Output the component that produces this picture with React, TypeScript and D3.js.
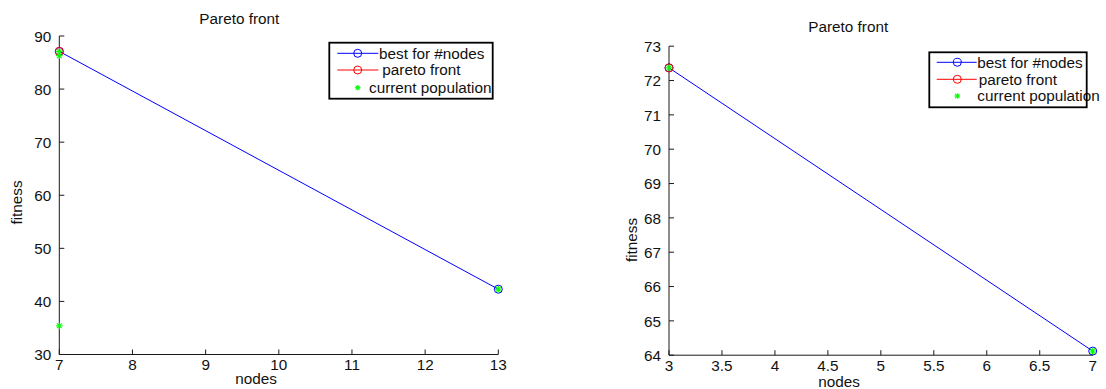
import React from "react";
import * as d3 from "d3";

// ---------- data ----------
const leftBestNodes = [7, 13];
const leftBestFitness = [87.1, 42.3];
const leftParetoNodes = [7];
const leftParetoFitness = [87.1];
const leftPopNodes = [7, 7, 7, 13];
const leftPopFitness = [87.1, 86.3, 35.4, 42.3];
const leftXTicks = [7, 8, 9, 10, 11, 12, 13];
const leftYTicks = [30, 40, 50, 60, 70, 80, 90];

const rightBestNodes = [3, 7];
const rightBestFitness = [72.37, 64.12];
const rightParetoNodes = [3];
const rightParetoFitness = [72.37];
const rightPopNodes = [3, 7];
const rightPopFitness = [72.37, 64.12];
const rightXTicks = [3, 3.5, 4, 4.5, 5, 5.5, 6, 6.5, 7];
const rightYTicks = [64, 65, 66, 67, 68, 69, 70, 71, 72, 73];

const titleText = "Pareto front";
const xLabelText = "nodes";
const yLabelText = "fitness";
const legendLabels = ["best for #nodes", "pareto front", "current population"];

const FONT = "'Liberation Sans', Arial, Helvetica, sans-serif";
const FS = 15.3;

type PanelProps = {
  xDomain: [number, number];
  yDomain: [number, number];
  xRange: [number, number];
  yRange: [number, number];
  xTicks: number[];
  yTicks: number[];
  bestX: number[];
  bestY: number[];
  paretoX: number[];
  paretoY: number[];
  popX: number[];
  popY: number[];
  title: [number, number];
  xLabel: [number, number];
  yLabel: [number, number];
  legend: { x: number; y: number; w: number; h: number; rows: number[]; line: [number, number]; marker: number; textX: number[] };
};

function Star({ x, y, r = 3.3 }: { x: number; y: number; r?: number }) {
  const d = r * 0.72;
  return (
    <g stroke="#00ff00" strokeWidth={1.1}>
      <line x1={x - r} y1={y} x2={x + r} y2={y} />
      <line x1={x} y1={y - r} x2={x} y2={y + r} />
      <line x1={x - d} y1={y - d} x2={x + d} y2={y + d} />
      <line x1={x - d} y1={y + d} x2={x + d} y2={y - d} />
    </g>
  );
}

function Panel(p: PanelProps) {
  const x = d3.scaleLinear().domain(p.xDomain).range(p.xRange);
  const y = d3.scaleLinear().domain(p.yDomain).range(p.yRange);
  const line = d3
    .line<number>()
    .x((_, i) => x(p.bestX[i]))
    .y((_, i) => y(p.bestY[i]));
  const paretoLine = d3
    .line<number>()
    .x((_, i) => x(p.paretoX[i]))
    .y((_, i) => y(p.paretoY[i]));
  const axisColor = "#1a1a1a";
  const tickLen = 5;
  const fmt = (v: number) => String(v);
  const lg = p.legend;
  const colors = ["#0000ff", "#ff0000"];
  return (
    <g fontFamily={FONT}>
      {/* axes */}
      <line x1={p.xRange[0]} y1={p.yRange[0]} x2={p.xRange[1]} y2={p.yRange[0]} stroke={axisColor} strokeWidth={1} />
      <line x1={p.xRange[0]} y1={p.yRange[0]} x2={p.xRange[0]} y2={p.yRange[1]} stroke={axisColor} strokeWidth={1} />
      {p.xTicks.map((t) => (
        <g key={"xt" + t}>
          <line x1={x(t)} x2={x(t)} y1={p.yRange[0]} y2={p.yRange[0] - tickLen} stroke={axisColor} />
          <text x={x(t)} y={p.yRange[0] + 15.7} textAnchor="middle" fontSize={FS} fill="#111">
            {fmt(t)}
          </text>
        </g>
      ))}
      {p.yTicks.map((t) => (
        <g key={"yt" + t}>
          <line x1={p.xRange[0]} x2={p.xRange[0] + tickLen} y1={y(t)} y2={y(t)} stroke={axisColor} />
          <text x={p.xRange[0] - 8} y={y(t)} dy="0.38em" textAnchor="end" fontSize={FS} fill="#111">
            {fmt(t)}
          </text>
        </g>
      ))}
      {/* labels */}
      <text x={p.title[0]} y={p.title[1]} textAnchor="middle" fontSize={FS} fill="#111">
        {titleText}
      </text>
      <text x={p.xLabel[0]} y={p.xLabel[1]} textAnchor="middle" fontSize={FS} fill="#111">
        {xLabelText}
      </text>
      <text
        transform={`translate(${p.yLabel[0]},${p.yLabel[1]}) rotate(-90)`}
        textAnchor="middle"
        fontSize={FS}
        fill="#111"
      >
        {yLabelText}
      </text>
      {/* best for #nodes */}
      <path d={line(p.bestX) || ""} fill="none" stroke="#0000ff" strokeWidth={1} />
      {p.bestX.map((v, i) => (
        <circle key={"b" + i} cx={x(v)} cy={y(p.bestY[i])} r={4} fill="none" stroke="#0000ff" strokeWidth={1} />
      ))}
      {/* pareto front */}
      <path d={paretoLine(p.paretoX) || ""} fill="none" stroke="#ff0000" strokeWidth={1} />
      {p.paretoX.map((v, i) => (
        <circle key={"p" + i} cx={x(v)} cy={y(p.paretoY[i])} r={4} fill="none" stroke="#ff0000" strokeWidth={1} />
      ))}
      {/* current population */}
      {p.popX.map((v, i) => (
        <Star key={"s" + i} x={x(v)} y={y(p.popY[i])} />
      ))}
      {/* legend */}
      <rect x={lg.x} y={lg.y} width={lg.w} height={lg.h} fill="#fff" stroke="none" />
      {legendLabels.map((lab, i) => (
        <g key={"lg" + i}>
          {i < 2 && (
            <>
              <line x1={lg.line[0]} x2={lg.line[1]} y1={lg.rows[i]} y2={lg.rows[i]} stroke={colors[i]} strokeWidth={1} />
              <circle cx={lg.marker} cy={lg.rows[i]} r={4} fill="none" stroke={colors[i]} strokeWidth={1} />
            </>
          )}
          {i === 2 && <Star x={lg.marker} y={lg.rows[i]} r={2.8} />}
          <text x={lg.textX[i]} y={lg.rows[i]} dy="0.35em" fontSize={FS} fill="#111">
            {lab}
          </text>
        </g>
      ))}
      <rect x={lg.x} y={lg.y} width={lg.w} height={lg.h} fill="none" stroke="#000" strokeWidth={1.8} />
    </g>
  );
}

export default function App() {
  return (
    <svg
      width={1106}
      height={389}
      style={{ position: "absolute", left: 0, top: 0, background: "#fff" }}
    >
      <rect x={0} y={0} width={1106} height={389} fill="#fff" />
      <Panel
        xDomain={[7, 13]}
        yDomain={[30, 90]}
        xRange={[59.3, 498.3]}
        yRange={[354.5, 36]}
        xTicks={leftXTicks}
        yTicks={leftYTicks}
        bestX={leftBestNodes}
        bestY={leftBestFitness}
        paretoX={leftParetoNodes}
        paretoY={leftParetoFitness}
        popX={leftPopNodes}
        popY={leftPopFitness}
        title={[239.3, 24]}
        xLabel={[256, 383.5]}
        yLabel={[22, 202.5]}
        legend={{ x: 329.3, y: 42.7, w: 163.4, h: 56, rows: [53.3, 70, 87.7], line: [337.3, 378.3], marker: 357.7, textX: [379, 382.3, 369] }}
      />
      <Panel
        xDomain={[3, 7]}
        yDomain={[64, 73]}
        xRange={[669, 1092.7]}
        yRange={[355.2, 46.2]}
        xTicks={rightXTicks}
        yTicks={rightYTicks}
        bestX={rightBestNodes}
        bestY={rightBestFitness}
        paretoX={rightParetoNodes}
        paretoY={rightParetoFitness}
        popX={rightPopNodes}
        popY={rightPopFitness}
        title={[848.2, 32]}
        xLabel={[839, 386.7]}
        yLabel={[636.7, 240]}
        legend={{ x: 929.3, y: 52.3, w: 157.4, h: 55, rows: [62.3, 79.3, 96], line: [936.7, 976.7], marker: 957.3, textX: [977.3, 978.7, 977.3] }}
      />
    </svg>
  );
}
